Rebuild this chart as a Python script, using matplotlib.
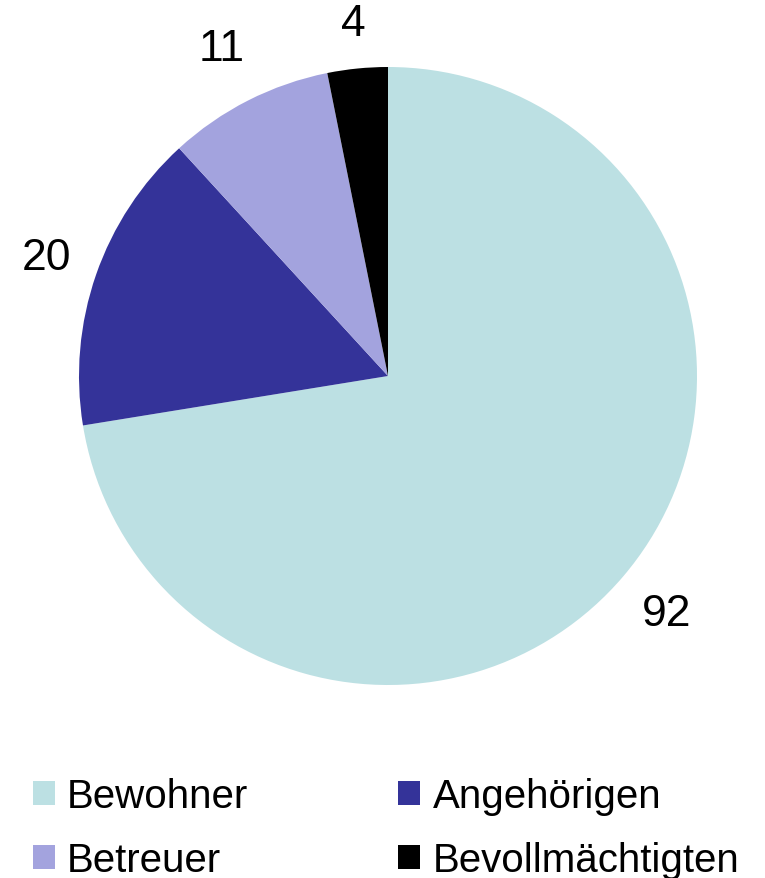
import matplotlib.pyplot as plt

plt.rcParams['font.family'] = ['Liberation Sans', 'DejaVu Sans']

labels = ['Bewohner', 'Angehörigen', 'Betreuer', 'Bevollmächtigten']
values = [92, 20, 11, 4]
colors = ['#BCE0E3', '#343399', '#A3A3DE', '#000000']
total = sum(values)

fig = plt.figure(figsize=(7.65, 8.79), dpi=100)

# pie centre (388, 377) px, radius 309 px
cx, cy, r = 388, 377, 309
W, H = 765, 879
ax = fig.add_axes([(cx - r) / W, 1 - (cy + r) / H, 2 * r / W, 2 * r / H])

base = 1.18
wedges, texts, autotexts = ax.pie(
    values, colors=colors, startangle=90, counterclock=False,
    autopct=lambda p: f"{p * total / 100:.0f}", pctdistance=base,
    wedgeprops=dict(linewidth=0), textprops=dict(fontsize=32),
    radius=1.0)

# small slice label sits a bit closer to the rim
label_dist = [1.185, 1.17, 1.19, 1.145]
for t, d in zip(autotexts, label_dist):
    x, y = t.get_position()
    t.set_position((x * d / base, y * d / base))

ax.set_xlim(-1, 1)
ax.set_ylim(-1, 1)
ax.set_aspect('equal')

order = [0, 2, 1, 3]
fig.legend([wedges[i] for i in order], [labels[i] for i in order],
           ncol=2, loc='center left', bbox_to_anchor=(33 / W, 1 - 829 / H),
           frameon=False, fontsize=29, borderpad=0, borderaxespad=0,
           handlelength=0.55, handleheight=0.55,
           handletextpad=0.3, columnspacing=3.72, labelspacing=0.64)

fig.savefig('out.png', dpi=100)
